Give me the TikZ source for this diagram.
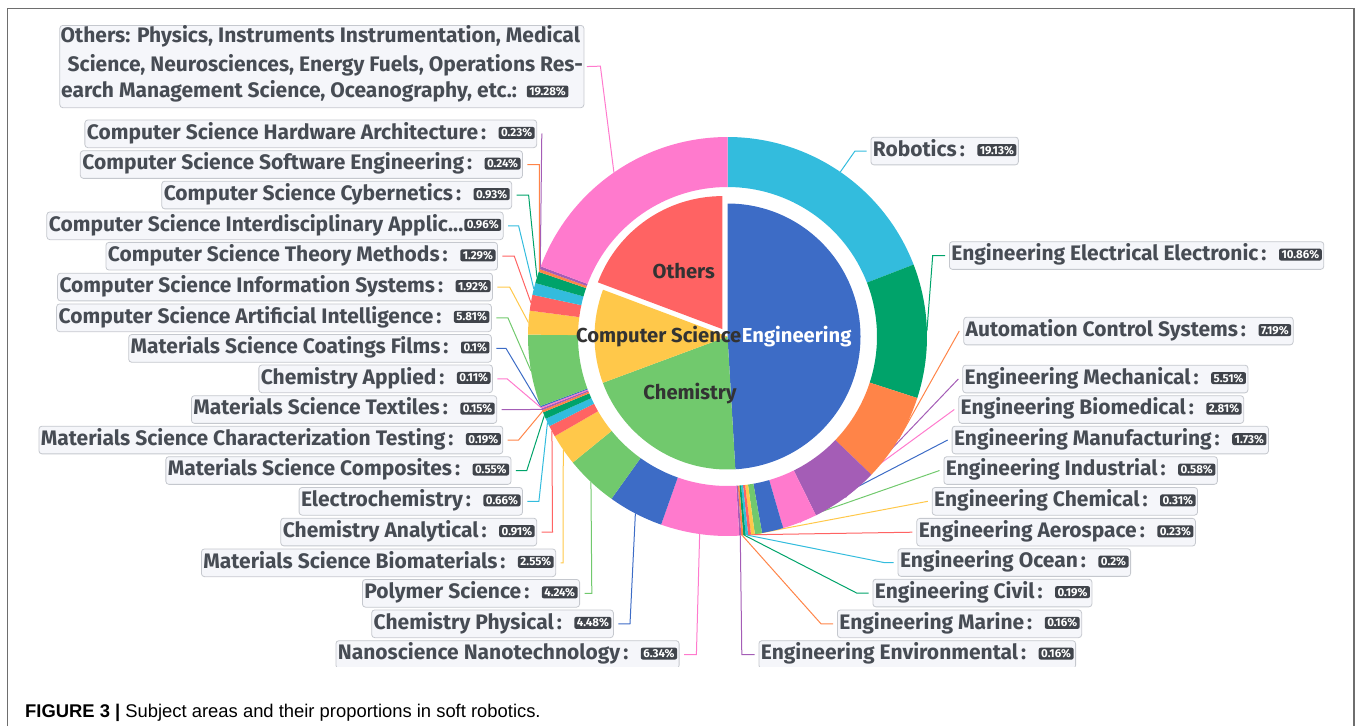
\documentclass[tikz,border=0pt]{standalone}
\usepackage{fontspec}
\setmainfont{Fira Sans}
\newfontfamily\lblfont{Fira Sans}
\newfontfamily\bdgfont{Fira Sans}
\newfontfamily\capfont{Liberation Sans}
\usetikzlibrary{calc}
\pgfdeclarelayer{bg}
\pgfsetlayers{bg,main}
\definecolor{c0}{HTML}{3D6CC6}
\definecolor{c1}{HTML}{71C96D}
\definecolor{c2}{HTML}{FFC84A}
\definecolor{c3}{HTML}{FF6363}
\definecolor{c4}{HTML}{33BCDD}
\definecolor{c5}{HTML}{00A36A}
\definecolor{c6}{HTML}{FF8448}
\definecolor{c7}{HTML}{A45DB6}
\definecolor{c8}{HTML}{FF7ACD}
\definecolor{lblbg}{HTML}{F5F6FA}
\definecolor{lblbd}{HTML}{C5C8CE}
\definecolor{lbltx}{HTML}{474C54}
\definecolor{bdgbg}{HTML}{40444B}
\definecolor{pietx}{HTML}{333333}
\definecolor{framecol}{HTML}{6E6E6E}
\tikzset{
  lbl/.style={draw=lblbd, fill=lblbg, rounded corners=3pt, line width=0.8pt,
    inner xsep=2pt, inner ysep=0pt, minimum height=27.7pt,
    text height=14pt, text depth=3.5pt, text=lbltx,
    font=\lblfont\bfseries\fontsize{21}{21}\selectfont},
  lbltxt/.style={inner sep=0pt, text=lbltx, font=\lblfont\bfseries\fontsize{21}{21}\selectfont},
  badge/.style={fill=bdgbg, text=white, rounded corners=2pt, inner xsep=2.5pt,
    inner ysep=0pt, minimum height=11.9pt, text height=7.9pt, text depth=0pt,
    font=\bdgfont\bfseries\fontsize{11.5}{11.5}\selectfont},
  pietxt/.style={inner sep=0pt, text=pietx, font=\lblfont\bfseries\fontsize{20.2}{20.2}\selectfont},
  ln/.style={line width=1pt},
}
\newcounter{bdgc}
\newcommand\bdg[1]{\stepcounter{bdgc}\tikz[baseline=(bdg\arabic{bdgc}.south)]\node[badge] (bdg\arabic{bdgc}) {#1};}
\newcommand\sep{\hspace{3pt}:\hspace{12.5pt}}
\newcommand\lblR[8]{%
  \node[lbl, anchor=west] (L#1) at (#5,#6) {#7\bdg{#8}\hspace{3.5pt}};
  \coordinate (P#1) at ($(C)+(#3:199.5)$);
  \coordinate (E#1) at (#4,#6);
  \begin{pgfonlayer}{bg}\draw[ln,#2] (P#1) -- (E#1) -- ([xshift=-4pt]L#1.west);\end{pgfonlayer}}
\newcommand\lblL[8]{%
  \node[lbl, anchor=east] (L#1) at (#5,#6) {#7\bdg{#8}\hspace{3.5pt}};
  \coordinate (P#1) at ($(C)+(#3:199.5)$);
  \coordinate (E#1) at (#4,#6);
  \begin{pgfonlayer}{bg}\draw[ln,#2] (P#1) -- (E#1) -- ([xshift=4.5pt]L#1.east);\end{pgfonlayer}}
\begin{document}
\begin{tikzpicture}[x=1pt,y=-1pt]
\useasboundingbox (0,0) rectangle (1355,726);
\coordinate (C) at (727.5,336.5);
\begin{scope}
\clip (0,0) rectangle (1355,666.7);
% outer ring
\begin{scope}[shift={(727.5,336.5)}]
\foreach \a/\b/\c in {-90/-21.132/c4, -21.132/17.964/c5, 17.964/43.848/c6, 43.848/63.684/c7,
  63.684/73.8/c8, 73.8/80.028/c0, 80.028/82.116/c1, 82.116/83.232/c2, 83.232/84.06/c3,
  84.06/84.78/c4, 84.78/85.464/c5, 85.464/86.04/c6, 86.04/86.616/c7, 86.616/109.44/c8,
  109.44/125.568/c0, 125.568/140.832/c1, 140.832/150.012/c2, 150.012/153.288/c3,
  153.288/155.664/c4, 155.664/157.644/c5, 157.644/158.328/c6, 158.328/158.868/c7,
  158.868/159.264/c8, 159.264/159.624/c0, 159.624/180.54/c1, 180.54/187.452/c2,
  187.452/192.096/c3, 192.096/195.552/c4, 195.552/198.9/c5, 198.9/199.764/c6,
  199.764/200.592/c7, 200.592/270/c8}
  {\fill[\c] (\a:199.5) arc[start angle=\a, end angle=\b, radius=199.5] -- (\b:149.5)
     arc[start angle=\b, end angle=\a, radius=149.5] -- cycle;}
% inner pie
\fill[c0] (0,0) -- (-90:133) arc[start angle=-90, end angle=86.616, radius=133] -- cycle;
\fill[c1] (0,0) -- (86.616:133) arc[start angle=86.616, end angle=159.624, radius=133] -- cycle;
\fill[c2] (0,0) -- (159.624:133) arc[start angle=159.624, end angle=200.592, radius=133] -- cycle;
\fill[c3, shift={(235.296:9)}] (0,0) -- (200.592:133) arc[start angle=200.592, end angle=270, radius=133] -- cycle;
\end{scope}
\node[pietxt, anchor=base] (tO) at (683.7,278.3) {Others};
\node[pietxt, anchor=base] (tCS) at (658.7,342.3) {Computer Science};
\node[pietxt, anchor=base, text=white] (tE) at (796.7,342.3) {Engineering};
\node[pietxt, anchor=base] (tCh) at (690,399.3) {Chemistry};
% right labels
\lblR{1}{c4}{-55.566}{855}{870.5}{151}{Robotics\sep}{19.13\%}
\lblR{2}{c5}{-1.584}{932.7}{949}{255.5}{Engineering Electrical Electronic\sep}{10.86\%}
\lblR{3}{c6}{30.906}{959.3}{963.3}{331}{Automation Control Systems\sep}{7.19\%}
\lblR{4}{c7}{53.766}{958.3}{962.3}{379}{Engineering Mechanical\sep}{5.51\%}
\lblR{5}{c8}{68.742}{954.3}{958.3}{409.5}{Engineering Biomedical\sep}{2.81\%}
\lblR{6}{c0}{76.914}{947.7}{951.7}{440}{Engineering Manufacturing\sep}{1.73\%}
\lblR{7}{c1}{81.072}{939.5}{943.5}{470.5}{Engineering Industrial\sep}{0.58\%}
\lblR{8}{c2}{82.674}{927.8}{931.8}{501.3}{Engineering Chemical\sep}{0.31\%}
\lblR{9}{c3}{83.646}{912.4}{916.4}{532.2}{Engineering Aerospace\sep}{0.23\%}
\lblR{10}{c4}{84.42}{883.8}{897.6}{562.5}{Engineering Ocean\sep}{0.2\%}
\lblR{11}{c5}{85.122}{856.6}{872.5}{593}{Engineering Civil\sep}{0.19\%}
\lblR{12}{c6}{85.752}{821}{837}{623.8}{Engineering Marine\sep}{0.16\%}
\lblR{13}{c7}{86.328}{741.8}{758.5}{654.5}{Engineering Environmental\sep}{0.16\%}
% left labels
\lblL{31}{c7}{200.178}{541.8}{537.1}{133.8}{Computer Science Hardware Architecture\sep}{0.23\%}
\lblL{30}{c6}{199.332}{539.3}{522.9}{164.5}{Computer Science Software Engineering\sep}{0.24\%}
\lblL{29}{c5}{197.226}{528.6}{512.1}{195}{Computer Science Cybernetics\sep}{0.93\%}
\lblL{28}{c4}{193.824}{518.6}{503.6}{225.8}{Computer Science Interdisciplinary Applic...\hspace{1pt}}{0.96\%}
\lblL{27}{c3}{189.774}{514.3}{497.9}{256.2}{Computer Science Theory Methods\sep}{1.29\%}
\lblL{26}{c2}{183.996}{509.6}{492.9}{287}{Computer Science Information Systems\sep}{1.92\%}
\lblL{25}{c1}{170.082}{507.9}{491.8}{317.8}{Computer Science Artificial Intelligence\sep}{5.81\%}
\lblL{24}{c0}{159.444}{506}{491.8}{348.4}{Materials Science Coatings Films\sep}{0.1\%}
\lblL{23}{c8}{159.066}{507.1}{492.9}{378.8}{Chemistry Applied\sep}{0.11\%}
\lblL{22}{c7}{158.598}{530}{497.1}{409.5}{Materials Science Textiles\sep}{0.15\%}
\lblL{21}{c6}{157.986}{518.6}{503.2}{440}{Materials Science Characterization Testing\sep}{0.19\%}
\lblL{20}{c5}{156.654}{526.8}{511.4}{470.5}{Materials Science Composites\sep}{0.55\%}
\lblL{19}{c4}{154.476}{538.9}{522.9}{501.3}{Electrochemistry\sep}{0.66\%}
\lblL{18}{c3}{151.65}{552.5}{537.1}{532}{Chemistry Analytical\sep}{0.91\%}
\lblL{17}{c2}{145.422}{563.2}{556.1}{562.8}{Materials Science Biomaterials\sep}{2.55\%}
\lblL{16}{c1}{133.2}{591.8}{580}{593.3}{Polymer Science\sep}{4.24\%}
\lblL{15}{c0}{117.504}{630}{613.8}{623.8}{Chemistry Physical\sep}{4.48\%}
\lblL{14}{c8}{98.028}{696.4}{679.5}{654.5}{Nanoscience Nanotechnology\sep}{6.34\%}
% Others label
\node[lbl, minimum width=524.1pt, minimum height=82.3pt, anchor=north west] (LO) at (59.4,25) {};
\node[lbltxt, anchor=base west] (LO1) at (60.5,42.6) {Others: Physics, Instruments Instrumentation, Medical};
\node[lbltxt, anchor=base west] (LO2) at (60.5,71) {\hspace{7pt}Science, Neurosciences, Energy Fuels, Operations Res-};
\node[lbltxt, anchor=base west] (LO3) at (61,97.6) {earch Management Science, Oceanography, etc.:\hspace{10pt}\bdg{19.28\%}};
\coordinate (P32) at ($(C)+(235.296:199.5)$);
\coordinate (E32) at (600.4,66.15);
\begin{pgfonlayer}{bg}\draw[ln,c8] (P32) -- (E32) -- ([xshift=2.5pt]LO.east);\end{pgfonlayer}
\end{scope}
% frame
\coordinate (F1) at (7.7,726);
\coordinate (F2) at (7.7,8.5);
\coordinate (F3) at (1354,8.5);
\coordinate (F4) at (1354,726);
\draw[framecol, line width=1.2pt] (F1) -- (F2) -- (F3) -- (F4);
% caption
\node[anchor=base west, inner sep=0pt, font=\capfont\fontsize{18.4}{18.4}\selectfont] (cap) at (25,717)
  {\textbf{FIGURE 3 |} Subject areas and their proportions in soft robotics.};
\end{tikzpicture}
\end{document}
